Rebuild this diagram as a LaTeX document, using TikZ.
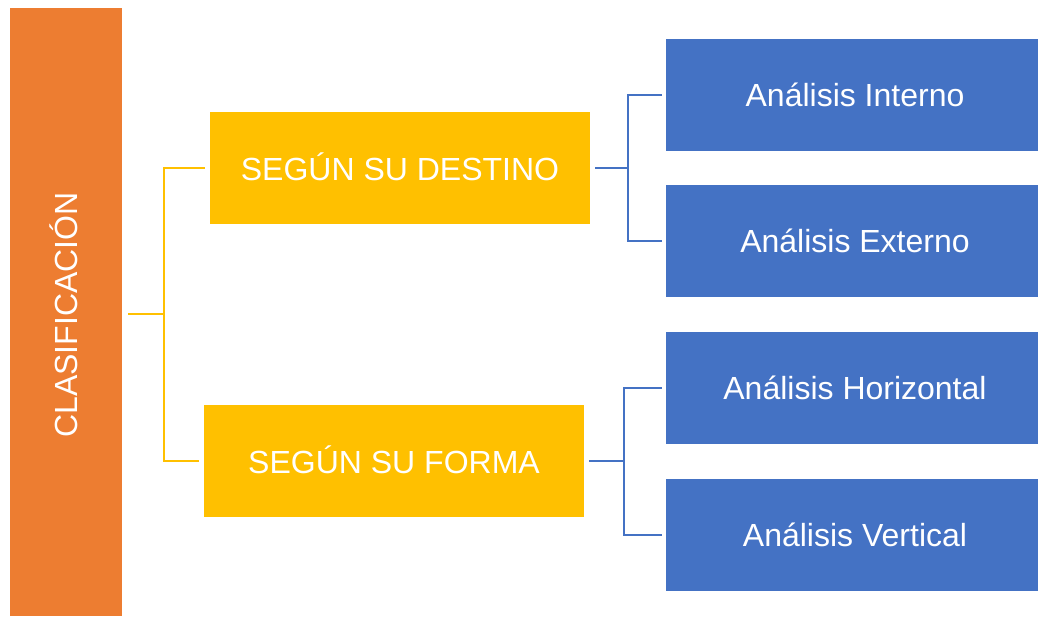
\documentclass[tikz,border=0pt]{standalone}
\usepackage{fontspec}
\setmainfont{Liberation Sans}
\definecolor{barorange}{HTML}{ED7D31}
\definecolor{boxgold}{HTML}{FFC000}
\definecolor{boxblue}{HTML}{4472C4}

\begin{document}
\begin{tikzpicture}[x=1pt, y=-1pt,
    basebox/.style={shape=rectangle, draw=none, inner sep=0pt, text=white,
      font=\fontsize{32}{37}\selectfont},
    mainbar/.style={basebox, fill=barorange, minimum width=112pt, minimum height=608pt},
    groupbox/.style={basebox, fill=boxgold, minimum width=380pt, minimum height=112pt},
    leafbox/.style={basebox, fill=boxblue, minimum width=372pt, minimum height=112pt,
      text depth=0pt},
    linkgold/.style={draw=boxgold, line width=2.7pt},
    linkblue/.style={draw=boxblue, line width=2.7pt}]
  \useasboundingbox (0,0) rectangle (1038,616);

  % nodes
  \node[mainbar] at (66,312) (clas) {};
  \node[basebox, rotate=90] at (64,315) (clastext) {CLASIFICACIÓN};
  \node[groupbox] at (400,168) (dest) {\raisebox{2pt}{SEGÚN SU DESTINO}};
  \node[groupbox] at (394,461) (forma) {\raisebox{2pt}{SEGÚN SU FORMA}};
  \node[leafbox] at (852,95) (interno) {\hspace{6pt}Análisis Interno};
  \node[leafbox] at (852,241) (externo) {\hspace{6pt}Análisis Externo};
  \node[leafbox] at (852,388) (horiz) {\hspace{6pt}Análisis Horizontal};
  \node[leafbox] at (852,535) (vert) {\hspace{6pt}Análisis Vertical};

  % junctions
  \coordinate (jclas) at (164,314);
  \coordinate (jdest) at (628,168);
  \coordinate (jforma) at (624,461);

  % arcs
  \draw[linkgold, shorten <=6pt] (clas.east |- jclas) -- (jclas);
  \draw[linkgold, shorten >=5pt] (jclas) |- (dest.west);
  \draw[linkgold, shorten >=5pt] (jclas) |- (forma.west);
  \draw[linkblue, shorten <=5pt] (dest.east) -- (jdest);
  \draw[linkblue, shorten >=4pt] (jdest) |- (interno.west);
  \draw[linkblue, shorten >=4pt] (jdest) |- (externo.west);
  \draw[linkblue, shorten <=5pt] (forma.east) -- (jforma);
  \draw[linkblue, shorten >=4pt] (jforma) |- (horiz.west);
  \draw[linkblue, shorten >=4pt] (jforma) |- (vert.west);
\end{tikzpicture}
\end{document}
